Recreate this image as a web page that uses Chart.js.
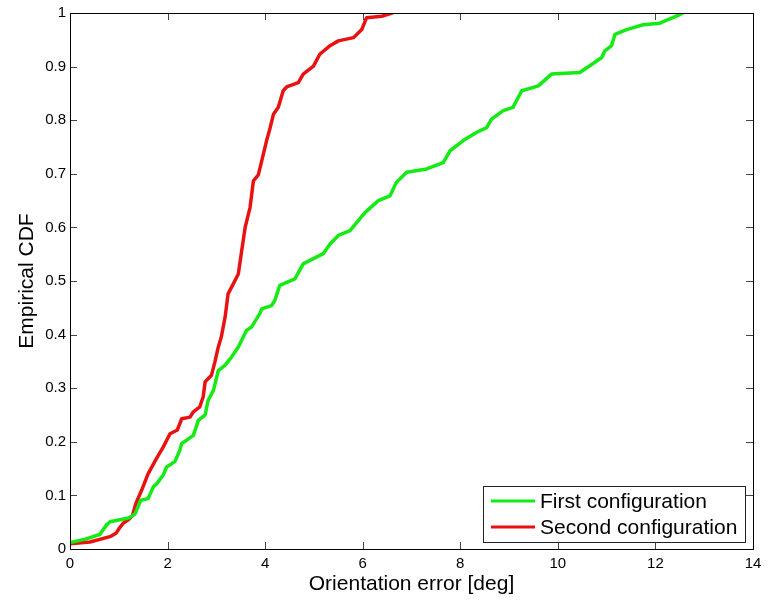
<!DOCTYPE html>
<html>
<head>
<meta charset="utf-8">
<script src="https://cdn.jsdelivr.net/npm/chart.js@4.4.0/dist/chart.umd.min.js"></script>
<style>
  html, body { margin: 0; padding: 0; background: #fff; }
  #wrap { width: 770px; height: 605px; }
</style>
</head>
<body>
<div id="wrap"><canvas id="c" width="770" height="605"></canvas></div>
<script>
// ---- data ----
const seriesLabels = ['First configuration', 'Second configuration'];
const seriesColors = ['rgb(20,235,20)', 'rgb(232,18,18)'];

const firstX = [0, 0.3, 0.61, 0.75, 0.82, 1.2, 1.33, 1.4, 1.45, 1.6, 1.71, 1.78, 1.91, 1.98, 2.15, 2.25, 2.29, 2.39, 2.53, 2.63, 2.77, 2.83, 2.94, 3.04, 3.18, 3.31, 3.45, 3.62, 3.72, 3.89, 3.93, 4.13, 4.2, 4.3, 4.61, 4.78, 5.19, 5.33, 5.5, 5.74, 6.05, 6.32, 6.56, 6.69, 6.9, 7.31, 7.65, 7.79, 8.06, 8.33, 8.54, 8.64, 8.88, 9.08, 9.26, 9.6, 9.87, 10.45, 10.9, 10.96, 11.1, 11.17, 11.41, 11.75, 12.09, 12.5, 12.55];
const firstY = [0.012, 0.018, 0.027, 0.045, 0.051, 0.058, 0.065, 0.08, 0.091, 0.094, 0.116, 0.122, 0.138, 0.153, 0.163, 0.184, 0.197, 0.203, 0.212, 0.24, 0.25, 0.277, 0.296, 0.333, 0.343, 0.358, 0.377, 0.408, 0.414, 0.439, 0.448, 0.454, 0.464, 0.492, 0.504, 0.532, 0.551, 0.569, 0.585, 0.594, 0.628, 0.65, 0.659, 0.684, 0.703, 0.709, 0.721, 0.743, 0.762, 0.777, 0.786, 0.802, 0.818, 0.824, 0.855, 0.864, 0.886, 0.889, 0.917, 0.929, 0.939, 0.96, 0.969, 0.978, 0.981, 0.997, 1.0];

const secondX = [0, 0.41, 0.82, 0.95, 1.02, 1.09, 1.2, 1.28, 1.35, 1.47, 1.6, 1.78, 1.91, 2.05, 2.2, 2.29, 2.46, 2.53, 2.66, 2.73, 2.77, 2.9, 2.97, 3.04, 3.1, 3.18, 3.24, 3.35, 3.45, 3.52, 3.59, 3.69, 3.76, 3.86, 3.93, 4.03, 4.1, 4.17, 4.27, 4.37, 4.44, 4.68, 4.78, 4.99, 5.12, 5.33, 5.5, 5.81, 5.98, 6.05, 6.08, 6.39, 6.6];
const secondY = [0.01, 0.013, 0.023, 0.03, 0.04, 0.048, 0.055, 0.062, 0.085, 0.11, 0.14, 0.17, 0.19, 0.215, 0.222, 0.243, 0.246, 0.256, 0.265, 0.284, 0.312, 0.324, 0.349, 0.377, 0.395, 0.433, 0.476, 0.495, 0.513, 0.557, 0.6, 0.637, 0.687, 0.698, 0.724, 0.762, 0.785, 0.811, 0.824, 0.855, 0.862, 0.870, 0.886, 0.901, 0.923, 0.939, 0.948, 0.954, 0.969, 0.985, 0.991, 0.994, 1.0];

const xTicks = [0, 2, 4, 6, 8, 10, 12, 14];
const yTicks = [0, 0.1, 0.2, 0.3, 0.4, 0.5, 0.6, 0.7, 0.8, 0.9, 1];
const xTitle = 'Orientation error [deg]';
const yTitle = 'Empirical CDF';

const FONT = "'Liberation Sans', Arial, Helvetica, sans-serif";

function pts(xs, ys) { return xs.map((x, i) => ({ x: x, y: ys[i] })); }

// box + inward ticks on all four sides (MATLAB style)
const boxTicks = {
  id: 'boxTicks',
  afterDraw(chart) {
    const { ctx, chartArea: a, scales } = chart;
    const L = 7;
    ctx.save();
    ctx.strokeStyle = '#444';
    ctx.lineWidth = 1;
    ctx.beginPath();
    scales.x.ticks.forEach(t => {
      const px = Math.round(scales.x.getPixelForValue(t.value)) + 0.5;
      ctx.moveTo(px, a.bottom); ctx.lineTo(px, a.bottom - L);
      ctx.moveTo(px, a.top); ctx.lineTo(px, a.top + L);
    });
    scales.y.ticks.forEach(t => {
      const py = Math.round(scales.y.getPixelForValue(t.value)) + 0.5;
      ctx.moveTo(a.left, py); ctx.lineTo(a.left + L, py);
      ctx.moveTo(a.right, py); ctx.lineTo(a.right - L, py);
    });
    ctx.stroke();
    ctx.strokeStyle = '#000';
    ctx.strokeRect(Math.round(a.left) + 0.5, Math.round(a.top) + 0.5,
                   Math.round(a.right - a.left), Math.round(a.bottom - a.top));
    ctx.restore();
  }
};

// legend box inside the bottom-right corner of the plot area
const boxLegend = {
  id: 'boxLegend',
  afterDraw(chart) {
    const { ctx, chartArea: a } = chart;
    const ds = chart.data.datasets;
    ctx.save();
    ctx.font = '21px ' + FONT;
    const tw = Math.max(...ds.map(d => ctx.measureText(d.label).width));
    const padL = 8, lineW = 44, gap = 5, padR = 8, rowH = 26;
    const w = padL + lineW + gap + tw + padR;
    const h = 56;
    const right = a.right - 8, bottom = a.bottom - 7;
    const left = Math.round(right - w), top = Math.round(bottom - h);
    ctx.fillStyle = '#fff';
    ctx.fillRect(left, top, right - left, bottom - top);
    ctx.strokeStyle = '#222';
    ctx.lineWidth = 1;
    ctx.strokeRect(left + 0.5, top + 0.5, Math.round(right - left), Math.round(bottom - top));
    ds.forEach((d, i) => {
      const cy = top + 15 + i * rowH;
      ctx.strokeStyle = d.borderColor;
      ctx.lineWidth = 3;
      ctx.beginPath();
      ctx.moveTo(left + padL, cy); ctx.lineTo(left + padL + lineW, cy);
      ctx.stroke();
      ctx.fillStyle = '#000';
      ctx.textBaseline = 'middle';
      ctx.textAlign = 'left';
      ctx.fillText(d.label, left + padL + lineW + gap, cy + 1);
    });
    ctx.restore();
  }
};

new Chart(document.getElementById('c'), {
  type: 'scatter',
  data: {
    datasets: [
      { label: seriesLabels[0], data: pts(firstX, firstY), borderColor: seriesColors[0], backgroundColor: seriesColors[0] },
      { label: seriesLabels[1], data: pts(secondX, secondY), borderColor: seriesColors[1], backgroundColor: seriesColors[1] }
    ]
  },
  options: {
    responsive: false,
    animation: false,
    showLine: true,
    elements: {
      point: { radius: 0, hoverRadius: 0 },
      line: { borderWidth: 3.5, tension: 0, borderJoinStyle: 'round', borderCapStyle: 'round' }
    },
    layout: { padding: { top: 12, right: 17, left: 0, bottom: 0 } },
    plugins: { legend: { display: false }, tooltip: { enabled: false } },
    scales: {
      x: {
        type: 'linear', min: 0, max: 14,
        afterBuildTicks: s => { s.ticks = xTicks.map(v => ({ value: v })); },
        afterFit: s => { s.height = 56; },
        grid: { display: false, drawTicks: false },
        border: { display: true, color: '#000' },
        ticks: { padding: 6, color: '#000', font: { family: FONT, size: 15 }, maxRotation: 0, callback: v => String(v) },
        title: { display: true, text: xTitle, color: '#000', font: { family: FONT, size: 21 }, padding: { top: 0, bottom: 8 } }
      },
      y: {
        type: 'linear', min: 0, max: 1,
        afterBuildTicks: s => { s.ticks = yTicks.map(v => ({ value: v })); },
        afterFit: s => { s.width = 70; },
        grid: { display: false, drawTicks: false },
        border: { display: true, color: '#000' },
        ticks: { padding: 4, color: '#000', font: { family: FONT, size: 15 }, callback: v => String(+v.toFixed(1)) },
        title: { display: true, text: yTitle, color: '#000', font: { family: FONT, size: 21 }, padding: { top: 15, bottom: 0 } }
      }
    }
  },
  plugins: [boxTicks, boxLegend]
});
</script>
</body>
</html>
